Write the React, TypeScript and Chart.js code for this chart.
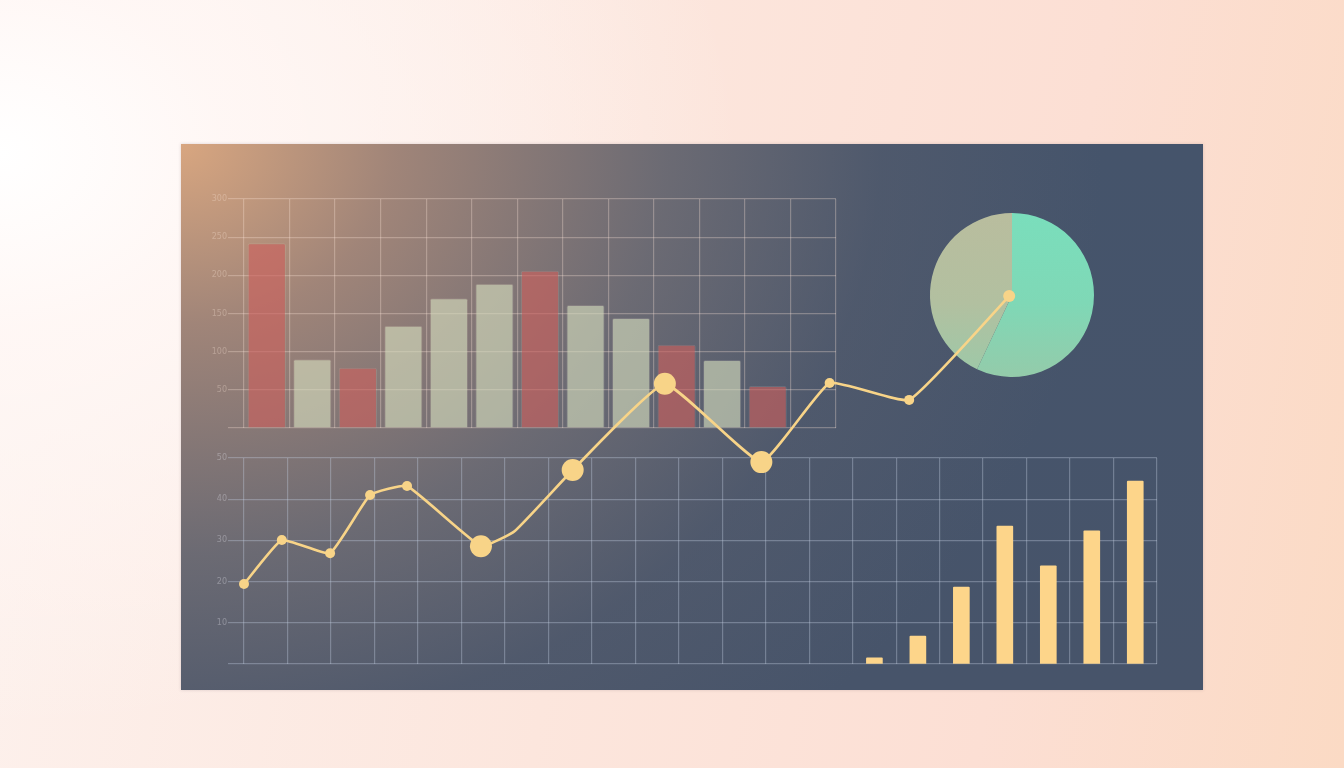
import React, { useEffect, useRef } from "react";
import { Chart, registerables } from "chart.js";

Chart.register(...registerables);

// ---- data ----
const topCategories = ["A", "B", "C", "D", "E", "F", "G", "H", "I", "J", "K", "L", "M"];
const topValues = [242, 90, 79, 134, 170, 189, 206, 161, 144, 109, 89, 55, null];
const topKinds = ["r", "b", "r", "b", "b", "b", "r", "b", "b", "r", "b", "r", "b"];
const topTicks = [0, 50, 100, 150, 200, 250, 300];

const bottomCategories = Array.from({ length: 21 }, (_, i) => String(i + 1));
const bottomValues = [null, null, null, null, null, null, null, null, null, null, null, null, null, null, 1.5, 6.8, 18.7, 33.5, 23.8, 32.3, 44.4];
const bottomTicks = [0, 10, 20, 30, 40, 50];

const lineX = [0, 0.87, 1.98, 2.9, 3.75, 5.45, 6.23, 7.56, 9.68, 11.9, 13.47, 15.3, 17.6];
const lineY = [19.4, 30.1, 26.9, 41.0, 43.2, 28.6, 32.3, 47.1, 68.0, 49.0, 68.2, 64.1, 89.3];
const highlighted = [5, 7, 8, 9];
const unmarked = [6];

const pieLabels = ["Mint", "Sand"];
const pieValues = [57, 43];

const PANEL_W = 1022;
const PANEL_H = 546;

const FONT = { family: "DejaVu Sans", size: 8 };

function useChart(ref: React.RefObject<HTMLCanvasElement | null>, make: (c: HTMLCanvasElement) => Chart) {
  useEffect(() => {
    if (!ref.current) return;
    const ch = make(ref.current);
    return () => ch.destroy();
  }, []);
}

export default function App() {
  const topRef = useRef<HTMLCanvasElement | null>(null);
  const botRef = useRef<HTMLCanvasElement | null>(null);
  const pieRef = useRef<HTMLCanvasElement | null>(null);
  const lineRef = useRef<HTMLCanvasElement | null>(null);

  useChart(topRef, (c) =>
    new Chart(c, {
      type: "bar",
      data: {
        labels: topCategories,
        datasets: [
          {
            data: topValues as any,
            backgroundColor: topKinds.map((k) => (k === "r" ? "rgba(205,95,92,0.62)" : "rgba(214,222,190,0.62)")),
            borderColor: "rgba(255,235,220,0.12)",
            borderWidth: 1,
            borderRadius: 2,
            barPercentage: 0.84,
            categoryPercentage: 1,
          },
        ],
      },
      options: {
        responsive: false,
        animation: false,
        layout: { padding: { left: 0, top: 55, right: 367, bottom: 262 } },
        plugins: { legend: { display: false }, tooltip: { enabled: false } },
        scales: {
          x: {
            grid: { color: "rgba(255,232,218,0.3)", lineWidth: 1.2, drawTicks: false },
            border: { display: false },
            ticks: { display: false },
            afterFit: (s: any) => { s.height = 0; },
          },
          y: {
            min: 0,
            max: 300,
            afterBuildTicks: (s: any) => { s.ticks = topTicks.map((v) => ({ value: v })); },
            ticks: {
              color: "rgba(255,236,222,0.3)",
              font: FONT,
              padding: 1,
              callback: (v: any) => (v === 0 ? "" : String(v)),
            },
            grid: { color: "rgba(255,232,218,0.3)", lineWidth: 1.2, tickLength: 16 },
            border: { display: false },
            afterFit: (s: any) => { s.width = 63; },
          },
        },
      },
    })
  );

  useChart(botRef, (c) =>
    new Chart(c, {
      type: "bar",
      data: {
        labels: bottomCategories,
        datasets: [
          {
            data: bottomValues as any,
            backgroundColor: "#fdd58a",
            barThickness: 16,
            borderRadius: 1,
          },
        ],
      },
      options: {
        responsive: false,
        animation: false,
        layout: { padding: { left: 0, top: 314, right: 46, bottom: 26 } },
        plugins: { legend: { display: false }, tooltip: { enabled: false } },
        scales: {
          x: {
            grid: { color: "rgba(195,205,225,0.36)", lineWidth: 1.2, drawTicks: false },
            border: { display: false },
            ticks: { display: false },
            afterFit: (s: any) => { s.height = 0; },
          },
          y: {
            min: 0,
            max: 50,
            afterBuildTicks: (s: any) => { s.ticks = bottomTicks.map((v) => ({ value: v })); },
            ticks: {
              color: "rgba(225,225,235,0.35)",
              font: FONT,
              padding: 1,
              callback: (v: any) => (v === 0 ? "" : String(v)),
            },
            grid: { color: "rgba(195,205,225,0.36)", lineWidth: 1.2, tickLength: 16 },
            border: { display: false },
            afterFit: (s: any) => { s.width = 63; },
          },
        },
      },
    })
  );

  useChart(pieRef, (c) =>
    new Chart(c, {
      type: "pie",
      data: {
        labels: pieLabels,
        datasets: [
          {
            data: pieValues,
            backgroundColor: (ctx: any) => {
              const area = ctx.chart.chartArea;
              if (!area) return ctx.dataIndex === 0 ? "#7ddcbb" : "#b6bf9f";
              const g = ctx.chart.ctx.createLinearGradient(0, area.top, 0, area.bottom);
              if (ctx.dataIndex === 0) {
                g.addColorStop(0, "#7adebc");
                g.addColorStop(0.55, "#7fd8b6");
                g.addColorStop(1, "#94cbaa");
              } else {
                g.addColorStop(0, "#b9bd9e");
                g.addColorStop(0.55, "#b2c0a0");
                g.addColorStop(1, "#9cc9a8");
              }
              return g;
            },
            borderWidth: 0,
          },
        ],
      },
      options: {
        responsive: false,
        animation: false,
        layout: { padding: { left: 749, right: 109, top: 69, bottom: 313 } },
        plugins: { legend: { display: false }, tooltip: { enabled: false } },
      },
    })
  );

  useChart(lineRef, (c) =>
    new Chart(c, {
      type: "line",
      data: {
        datasets: [
          {
            data: lineX.map((x, i) => ({ x, y: lineY[i] })),
            borderColor: "#f8d488",
            backgroundColor: "#f8d488",
            borderWidth: 2.6,
            tension: 0.12,
            clip: false as any,
            pointBorderWidth: 0,
            pointRadius: (ctx: any) => {
              const i = ctx.dataIndex;
              if (highlighted.includes(i)) return 11;
              if (unmarked.includes(i)) return 0;
              if (i === lineX.length - 1) return 6;
              return 5;
            },
          },
        ],
      },
      options: {
        responsive: false,
        animation: false,
        layout: { padding: { left: 63, right: 46, top: 108, bottom: 26 } },
        plugins: { legend: { display: false }, tooltip: { enabled: false } },
        scales: {
          x: { type: "linear", min: 0, max: 21, display: false },
          y: { min: 0, max: 100, display: false },
        },
      },
    })
  );

  const canvasStyle: React.CSSProperties = { position: "absolute", left: 0, top: 0, width: PANEL_W, height: PANEL_H };

  return (
    <div
      style={{
        position: "absolute",
        left: 0,
        top: 0,
        width: 1344,
        height: 768,
        overflow: "hidden",
        background:
          "radial-gradient(ellipse 55% 75% at 0% 20%, #ffffff 0%, rgba(255,248,246,0.9) 30%, rgba(254,240,235,0) 100%), linear-gradient(100deg, #fdf2ee 0%, #fce6dd 45%, #fcdfd4 75%, #fbdac4 100%)",
      }}
    >
      <div
        style={{
          position: "absolute",
          left: 181,
          top: 144,
          width: PANEL_W,
          height: PANEL_H,
          background:
            "radial-gradient(ellipse 95% 150% at 0% 0%, rgba(216,166,128,1) 0%, rgba(170,138,122,0.9) 22%, rgba(120,114,118,0.75) 50%, rgba(90,95,110,0.45) 72%, rgba(68,84,107,0) 95%), linear-gradient(180deg, #45546b 0%, #47546a 100%)",
          boxShadow: "0 0 3px rgba(120,100,110,0.25)",
        }}
      >
        <canvas ref={topRef} width={PANEL_W} height={PANEL_H} style={canvasStyle} />
        <canvas ref={botRef} width={PANEL_W} height={PANEL_H} style={canvasStyle} />
        <canvas ref={pieRef} width={PANEL_W} height={PANEL_H} style={canvasStyle} />
        <canvas ref={lineRef} width={PANEL_W} height={PANEL_H} style={canvasStyle} />
      </div>
    </div>
  );
}
